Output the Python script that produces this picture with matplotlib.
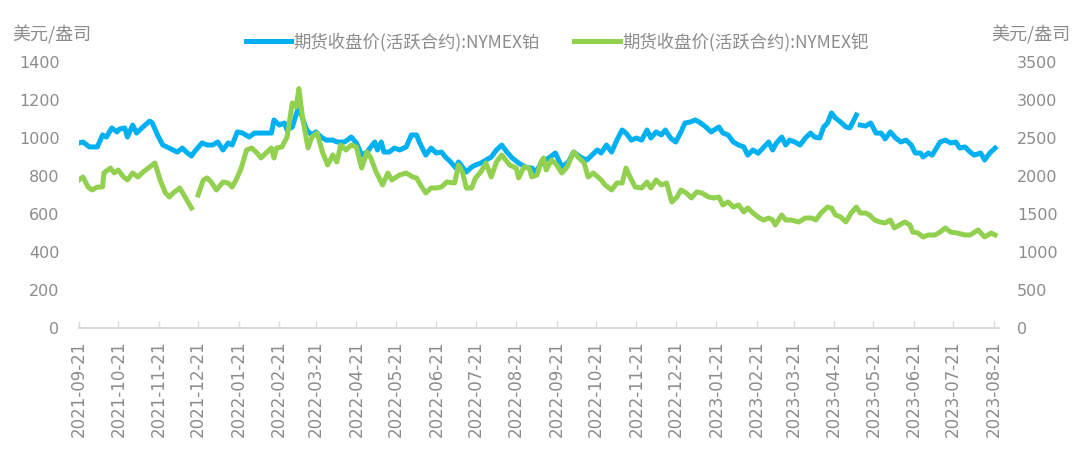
#
# NYMEX platinum / palladium futures close, two y axes
#
import pandas as pd
import numpy as np
import matplotlib
matplotlib.use("Agg")
import matplotlib.pyplot as plt
import matplotlib.dates as mdates

# platinum (left axis), None = missing day
plat_dates = [
    "2021-09-21", "2021-09-24", "2021-09-29", "2021-10-05", "2021-10-09", "2021-10-12", "2021-10-16",
    "2021-10-20", "2021-10-22", "2021-10-26", "2021-10-28", "2021-11-01", "2021-11-04", "2021-11-08",
    "2021-11-14", "2021-11-16", "2021-11-20", "2021-11-24", "2021-11-29", "2021-12-05", "2021-12-09",
    "2021-12-12", "2021-12-16", "2021-12-18", "2021-12-24", "2021-12-28", "2022-01-01", "2022-01-05",
    "2022-01-09", "2022-01-13", "2022-01-16", "2022-01-20", "2022-01-24", "2022-01-29", "2022-02-02",
    "2022-02-07", "2022-02-11", "2022-02-15", "2022-02-17", "2022-02-21", "2022-02-25", "2022-02-27",
    "2022-03-03", "2022-03-07", "2022-03-08", "2022-03-11", "2022-03-14", "2022-03-18", "2022-03-21",
    "2022-03-25", "2022-03-29", "2022-04-03", "2022-04-06", "2022-04-12", "2022-04-17", "2022-04-21",
    "2022-04-25", "2022-04-29", "2022-05-02", "2022-05-05", "2022-05-07", "2022-05-10", "2022-05-12",
    "2022-05-16", "2022-05-20", "2022-05-24", "2022-05-29", "2022-06-02", "2022-06-06", "2022-06-08",
    "2022-06-13", "2022-06-17", "2022-06-21", "2022-06-25", "2022-06-28", "2022-07-02", "2022-07-06",
    "2022-07-08", "2022-07-14", "2022-07-18", "2022-07-21", "2022-07-25", "2022-07-29", "2022-08-02",
    "2022-08-06", "2022-08-10", "2022-08-14", "2022-08-18", "2022-08-23", "2022-08-28", "2022-09-02",
    "2022-09-05", "2022-09-10", "2022-09-15", "2022-09-20", "2022-09-25", "2022-09-30", "2022-10-04",
    "2022-10-09", "2022-10-14", "2022-10-18", "2022-10-22", "2022-10-25", "2022-10-29", "2022-11-02",
    "2022-11-06", "2022-11-10", "2022-11-13", "2022-11-17", "2022-11-21", "2022-11-25", "2022-11-29",
    "2022-12-02", "2022-12-06", "2022-12-10", "2022-12-13", "2022-12-17", "2022-12-21", "2022-12-25",
    "2022-12-28", "2023-01-01", "2023-01-05", "2023-01-09", "2023-01-13", "2023-01-17", "2023-01-23",
    "2023-01-26", "2023-01-30", "2023-02-03", "2023-02-07", "2023-02-11", "2023-02-14", "2023-02-18",
    "2023-02-22", "2023-02-26", "2023-03-02", "2023-03-05", "2023-03-08", "2023-03-12", "2023-03-15",
    "2023-03-18", "2023-03-22", "2023-03-26", "2023-03-30", "2023-04-03", "2023-04-06", "2023-04-10",
    "2023-04-13", "2023-04-16", "2023-04-19", "2023-04-22", "2023-04-26", "2023-04-30", "2023-05-03",
    "2023-05-05", "2023-05-08", "2023-05-09", "2023-05-11", "2023-05-15", "2023-05-19", "2023-05-23",
    "2023-05-27", "2023-05-30", "2023-06-03", "2023-06-07", "2023-06-11", "2023-06-15", "2023-06-19",
    "2023-06-22", "2023-06-26", "2023-06-28", "2023-07-02", "2023-07-05", "2023-07-11", "2023-07-15",
    "2023-07-19", "2023-07-23", "2023-07-26", "2023-07-30", "2023-08-03", "2023-08-06", "2023-08-11",
    "2023-08-14", "2023-08-18", "2023-08-22",
]
plat_values = [
    974, 979, 953, 953, 1016, 1005, 1053,
    1032, 1047, 1053, 1005, 1068, 1026, 1053,
    1089, 1079, 1016, 963, 947, 926, 947,
    926, 905, 926, 974, 963, 963, 979,
    937, 974, 963, 1032, 1026, 1005, 1026,
    1026, 1026, 1026, 1095, 1068, 1079, 1042,
    1058, 1147, 1160, 1100, 1042, 1016, 1032,
    1005, 989, 989, 979, 979, 1005, 974,
    910, 926, 953, 979, 937, 979, 926,
    926, 947, 937, 953, 1016, 1016, 979,
    910, 947, 921, 926, 900, 874, 842,
    874, 821, 847, 858, 868, 884, 900,
    937, 963, 926, 895, 868, 847, 842,
    821, 874, 895, 921, 847, 874, 926,
    900, 884, 910, 937, 921, 963, 926,
    989, 1042, 1026, 989, 1000, 989, 1042,
    1000, 1032, 1016, 1042, 1000, 979, 1032,
    1079, 1084, 1095, 1079, 1058, 1032, 1058,
    1026, 1016, 979, 963, 953, 910, 937,
    920, 950, 979, 937, 974, 1005, 963,
    989, 979, 963, 1000, 1026, 1005, 1000,
    1058, 1079, 1132, 1105, 1084, 1058, 1053,
    1079, 1121, None, 1068, 1063, 1079, 1026,
    1026, 995, 1032, 1000, 979, 989, 963,
    921, 921, 900, 921, 910, 979, 989,
    974, 979, 947, 953, 926, 910, 921,
    884, 921, 947,
]

# palladium (right axis)
pall_dates = [
    "2021-09-21", "2021-09-24", "2021-09-28", "2021-10-01", "2021-10-05", "2021-10-09", "2021-10-10",
    "2021-10-15", "2021-10-18", "2021-10-21", "2021-10-25", "2021-10-28", "2021-11-01", "2021-11-05",
    "2021-11-09", "2021-11-14", "2021-11-18", "2021-11-22", "2021-11-26", "2021-11-29", "2021-12-02",
    "2021-12-07", "2021-12-11", "2021-12-16", "2021-12-18", "2021-12-21", "2021-12-25", "2021-12-28",
    "2021-12-31", "2022-01-04", "2022-01-09", "2022-01-13", "2022-01-16", "2022-01-19", "2022-01-23",
    "2022-01-27", "2022-01-31", "2022-02-04", "2022-02-07", "2022-02-11", "2022-02-15", "2022-02-17",
    "2022-02-19", "2022-02-23", "2022-02-27", "2022-03-03", "2022-03-06", "2022-03-08", "2022-03-11",
    "2022-03-15", "2022-03-18", "2022-03-22", "2022-03-26", "2022-03-30", "2022-04-03", "2022-04-06",
    "2022-04-09", "2022-04-13", "2022-04-17", "2022-04-21", "2022-04-25", "2022-04-29", "2022-05-02",
    "2022-05-06", "2022-05-11", "2022-05-15", "2022-05-18", "2022-05-24", "2022-05-29", "2022-06-03",
    "2022-06-06", "2022-06-09", "2022-06-13", "2022-06-17", "2022-06-21", "2022-06-25", "2022-06-29",
    "2022-07-05", "2022-07-08", "2022-07-11", "2022-07-14", "2022-07-18", "2022-07-21", "2022-07-25",
    "2022-07-29", "2022-08-02", "2022-08-06", "2022-08-10", "2022-08-16", "2022-08-21", "2022-08-23",
    "2022-08-27", "2022-08-31", "2022-09-02", "2022-09-06", "2022-09-09", "2022-09-11", "2022-09-13",
    "2022-09-17", "2022-09-21", "2022-09-25", "2022-09-29", "2022-10-04", "2022-10-08", "2022-10-12",
    "2022-10-15", "2022-10-19", "2022-10-25", "2022-10-28", "2022-11-02", "2022-11-06", "2022-11-10",
    "2022-11-13", "2022-11-16", "2022-11-20", "2022-11-25", "2022-11-29", "2022-12-02", "2022-12-06",
    "2022-12-10", "2022-12-14", "2022-12-18", "2022-12-22", "2022-12-25", "2022-12-29", "2023-01-02",
    "2023-01-06", "2023-01-10", "2023-01-15", "2023-01-19", "2023-01-23", "2023-01-26", "2023-01-30",
    "2023-02-03", "2023-02-07", "2023-02-11", "2023-02-14", "2023-02-18", "2023-02-22", "2023-02-26",
    "2023-03-02", "2023-03-05", "2023-03-07", "2023-03-12", "2023-03-15", "2023-03-19", "2023-03-25",
    "2023-03-30", "2023-04-04", "2023-04-07", "2023-04-11", "2023-04-16", "2023-04-19", "2023-04-22",
    "2023-04-26", "2023-04-30", "2023-05-04", "2023-05-08", "2023-05-11", "2023-05-15", "2023-05-18",
    "2023-05-22", "2023-05-26", "2023-05-30", "2023-06-03", "2023-06-06", "2023-06-10", "2023-06-14",
    "2023-06-18", "2023-06-20", "2023-06-24", "2023-06-28", "2023-07-02", "2023-07-07", "2023-07-11",
    "2023-07-15", "2023-07-19", "2023-07-24", "2023-07-30", "2023-08-03", "2023-08-09", "2023-08-14",
    "2023-08-19", "2023-08-22",
]
pall_values = [
    1948, 1987, 1855, 1816, 1855, 1855, 2040,
    2105, 2040, 2079, 1987, 1948, 2040, 1987,
    2053, 2119, 2171, 1948, 1777, 1724, 1777,
    1842, 1724, 1579, None, 1750, 1948, 1974,
    1921, 1816, 1921, 1908, 1855, 1948, 2105,
    2342, 2369, 2303, 2237, 2303, 2369, 2237,
    2369, 2382, 2513, 2961, 2908, 3150, 2750,
    2369, 2513, 2566, 2316, 2145, 2277, 2184,
    2408, 2342, 2408, 2382, 2105, 2316, 2237,
    2053, 1882, 2040, 1948, 2013, 2040, 1987,
    1974, 1882, 1777, 1842, 1842, 1855, 1921,
    1908, 2145, 2053, 1842, 1842, 1974, 2053,
    2171, 1987, 2184, 2277, 2145, 2105, 1974,
    2119, 2105, 1987, 2013, 2184, 2237, 2079,
    2211, 2145, 2040, 2119, 2316, 2237, 2171,
    1987, 2040, 1948, 1882, 1816, 1908, 1908,
    2105, 1987, 1855, 1842, 1921, 1842, 1948,
    1882, 1908, 1658, 1724, 1816, 1777, 1711,
    1790, 1777, 1724, 1711, 1724, 1619, 1658,
    1592, 1619, 1527, 1579, 1513, 1460, 1420,
    1447, 1421, 1355, 1487, 1421, 1421, 1395,
    1447, 1447, 1421, 1513, 1592, 1579, 1487,
    1461, 1395, 1513, 1592, 1513, 1513, 1487,
    1421, 1395, 1382, 1421, 1316, 1355, 1395,
    1355, 1263, 1250, 1198, 1224, 1224, 1263,
    1316, 1263, 1250, 1224, 1224, 1290, 1198,
    1250, 1224,
]

# month ticks on the 21st, 2021-09-21 .. 2023-08-21
tick_dates = pd.date_range("2021-09-01", "2023-08-01", freq="MS") + pd.Timedelta(days=20)
plat_name = "期货收盘价(活跃合约):NYMEX铂"
pall_name = "期货收盘价(活跃合约):NYMEX钯"
unit = "美元/盎司"

BLUE = "#00B0F0"
GREEN = "#92D050"
GREY = "#8C8C8C"
CJK = ["Noto Sans CJK SC", "DejaVu Sans"]

plt.rcParams["font.family"] = ["DejaVu Sans", "Noto Sans CJK SC"]

fig = plt.figure(figsize=(10.77, 4.5), dpi=100)
ax = fig.add_axes([79 / 1077, 1 - 328 / 450, (999 - 79) / 1077, (328 - 62) / 450])
ax2 = ax.twinx()

px = pd.to_datetime(plat_dates)
py = np.array([np.nan if v is None else v for v in plat_values], dtype=float)
gx = pd.to_datetime(pall_dates)
gy = np.array([np.nan if v is None else v for v in pall_values], dtype=float)

l1, = ax.plot(px, py, color=BLUE, lw=3.6, solid_joinstyle="round", label=plat_name)
l2, = ax2.plot(gx, gy, color=GREEN, lw=3.6, solid_joinstyle="round", label=pall_name)

ax.set_ylim(0, 1400)
ax.set_yticks(np.arange(0, 1401, 200))
ax2.set_ylim(0, 3500)
ax2.set_yticks(np.arange(0, 3501, 500))
ax.set_xlim(pd.Timestamp("2021-09-21"), pd.Timestamp("2023-08-25"))

ax.set_xticks(tick_dates)
ax.xaxis.set_major_formatter(mdates.DateFormatter("%Y-%m-%d"))
ax.tick_params(axis="x", direction="in", length=5, width=1, color="#D9D9D9",
               labelsize=12, labelcolor=GREY, rotation=90, pad=9)
ax.tick_params(axis="y", length=0, labelsize=11.5, labelcolor=GREY, pad=14)
ax2.tick_params(axis="y", length=0, labelsize=11.5, labelcolor=GREY, pad=13)

for a in (ax, ax2):
    for s in ("top", "left", "right"):
        a.spines[s].set_visible(False)
    a.spines["bottom"].set_color("#D9D9D9")
    a.spines["bottom"].set_linewidth(1.2)

fig.text(12 / 1077, 1 - 35 / 450, unit, ha="left", va="center", fontsize=13,
         color=GREY, family=CJK)
fig.text(1070 / 1077, 1 - 35 / 450, unit, ha="right", va="center", fontsize=13,
         color=GREY, family=CJK)

fig.legend(handles=[l1, l2], loc="center", bbox_to_anchor=(557 / 1077, 1 - 42 / 450),
           ncol=2, frameon=False, handlelength=2.6, handletextpad=0.15, columnspacing=2.0,
           prop={"family": CJK, "size": 12.5}, labelcolor=GREY)

fig.savefig("out.png", dpi=100)
